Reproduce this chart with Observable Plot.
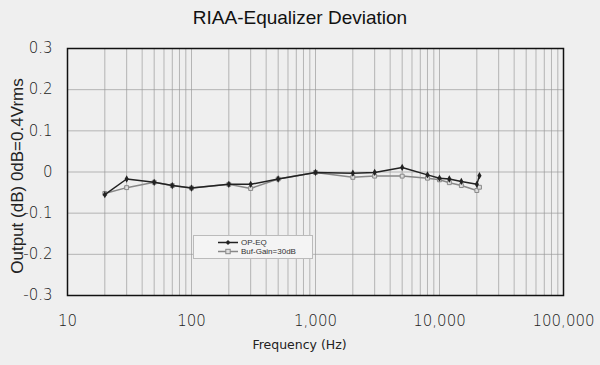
<!DOCTYPE html>
<html>
<head>
<meta charset="utf-8">
<script src="https://cdn.jsdelivr.net/npm/d3@7"></script>
<script src="https://cdn.jsdelivr.net/npm/@observablehq/plot@0.6"></script>
<style>
  html, body { margin: 0; padding: 0; background: #efefef; }
  #wrap { position: relative; width: 600px; height: 365px; overflow: hidden; font-family: "Liberation Sans", Arial, sans-serif; }
  #title { height: 36px; line-height: 36px; text-align: center; font-size: 19px; color: #111; }
  #legend { position: absolute; left: 193px; top: 235px; width: 118px; height: 22px; border: 1px solid #bbb; background: #f4f4f4; font-size: 8px; color: #333; }
  #legend .row { position: absolute; left: 24px; height: 9px; line-height: 9px; display: flex; align-items: center; }
  #legend svg { margin-right: 3px; }
</style>
</head>
<body>
<div id="wrap">
  <div id="title">RIAA-Equalizer Deviation</div>
  <div id="chart"></div>
  <div id="legend">
    <div class="row" style="top:2px"><svg width="20" height="9"><line x1="0" y1="4.5" x2="20" y2="4.5" stroke="#222" stroke-width="1.5"/><path d="M10 2 L12.5 4.5 L10 7 L7.5 4.5Z" fill="#222"/></svg>OP-EQ</div>
    <div class="row" style="top:11px"><svg width="20" height="9"><line x1="0" y1="4.5" x2="20" y2="4.5" stroke="#888" stroke-width="1.5"/><rect x="7.8" y="2.3" width="4.4" height="4.4" fill="#ddd" stroke="#888"/></svg>Buf-Gain=30dB</div>
  </div>
</div>
<script>
const freq    = [20, 30, 50, 70, 100, 200, 300, 500, 1000, 2000, 3000, 5000, 8000, 10000, 12000, 15000, 20000, 21000];
const opEq    = [-0.055, -0.017, -0.025, -0.033, -0.039, -0.030, -0.030, -0.017, -0.001, -0.003, -0.001, 0.011, -0.007, -0.015, -0.017, -0.023, -0.030, -0.009];
const bufGain = [-0.052, -0.038, -0.025, -0.033, -0.039, -0.030, -0.040, -0.017, -0.001, -0.013, -0.010, -0.010, -0.015, -0.019, -0.026, -0.033, -0.045, -0.037];
const xTicks  = [10, 100, 1000, 10000, 100000];
const yTicks  = [-0.3, -0.2, -0.1, 0, 0.1, 0.2, 0.3];
const xLabel  = "Frequency (Hz)";
const yLabel  = "Output (dB) 0dB=0.4Vrms";

const op = freq.map((f, i) => ({f, v: opEq[i]}));
const buf = freq.map((f, i) => ({f, v: bufGain[i]}));
const minor = [];
for (let d = 10; d < 100000; d *= 10) for (let k = 1; k <= 9; k++) minor.push(d * k);
minor.push(100000);

const chart = Plot.plot({
  width: 600,
  height: 329,
  marginTop: 12,
  marginBottom: 70,
  marginLeft: 67,
  marginRight: 37,
  style: {background: "transparent", fontFamily: "DejaVu Sans, sans-serif", color: "#222"},
  x: {type: "log", domain: [10, 100000]},
  y: {domain: [-0.3, 0.3]},
  marks: [
    Plot.gridX(minor, {stroke: "#999", strokeOpacity: 0.85, strokeWidth: 0.8}),
    Plot.gridY(yTicks, {stroke: "#999", strokeOpacity: 0.85, strokeWidth: 0.8}),
    Plot.axisX(xTicks, {tickSize: 0, tickPadding: 20, fontSize: 15, fontWeight: 300, tickFormat: d3.format(","), label: null}),
    Plot.axisY(yTicks, {tickSize: 0, tickPadding: 15, fontSize: 15, fontWeight: 300, tickFormat: d => d === 0 ? "0" : d.toFixed(1), label: null}),
    Plot.text([xLabel], {text: d => d, frameAnchor: "bottom", dy: 53, dx: -16, fontSize: 12.5, fill: "#222", fontFamily: "DejaVu Sans, sans-serif"}),
    Plot.text([yLabel], {text: d => d, frameAnchor: "left", textAnchor: "middle", dx: -50, dy: 4, rotate: -90, fontSize: 17, fill: "#222", fontFamily: "Liberation Sans, Arial, sans-serif"}),
    Plot.line(buf, {x: "f", y: "v", stroke: "#888", strokeWidth: 1.5}),
    Plot.dot(buf, {x: "f", y: "v", symbol: "square", r: 2.2, fill: "#ddd", stroke: "#888", strokeWidth: 1}),
    Plot.line(op, {x: "f", y: "v", stroke: "#222", strokeWidth: 1.5}),
    Plot.dot(op, {x: "f", y: "v", symbol: "diamond", r: 2.2, fill: "#222"}),
    Plot.frame({stroke: "#111", strokeWidth: 1.5})
  ]
});
document.getElementById("chart").appendChild(chart);
</script>
</body>
</html>
